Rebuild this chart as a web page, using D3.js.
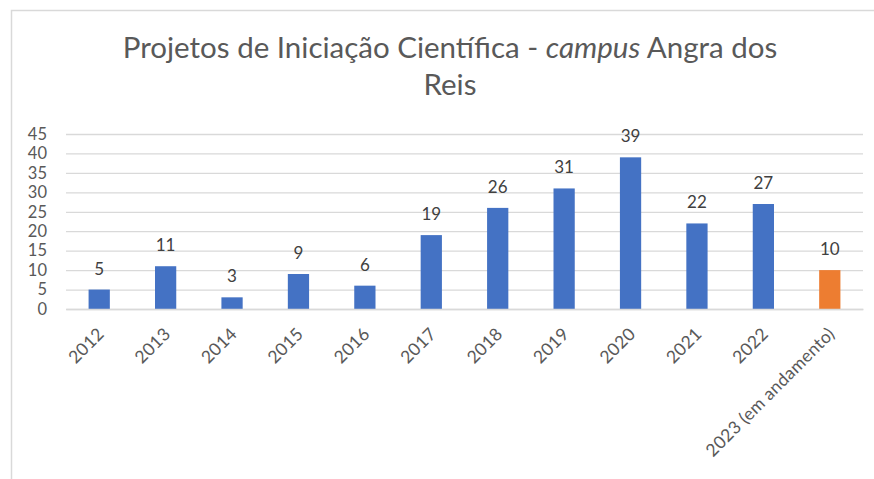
<!DOCTYPE html>
<html><head><meta charset="utf-8">
<script src="https://cdn.jsdelivr.net/npm/d3@7"></script>
<style>body{margin:0;background:#fff}svg{display:block}</style>
</head><body>
<script>
const categories = ["2012","2013","2014","2015","2016","2017","2018","2019","2020","2021","2022","2023 (em andamento)"];
const values = [5,11,3,9,6,19,26,31,39,22,27,10];
const highlighted = ["2023 (em andamento)"];
const yTicks = [0,5,10,15,20,25,30,35,40,45];
const titleLine1 = ["Projetos de Iniciação Científica - ", "campus", " Angra dos"];
const titleLine2 = "Reis";

const W = 874, H = 479;
const svg = d3.select("body").append("svg").attr("width", W).attr("height", H);
svg.append("rect").attr("width", W).attr("height", H).attr("fill", "#fff");
// chart border (extends beyond viewport)
svg.append("rect").attr("x", 11.5).attr("y", 10.5).attr("width", W + 20).attr("height", H + 20)
  .attr("fill", "none").attr("stroke", "#d9d9d9").attr("stroke-width", 1.5);

const font = "Lato, 'Open Sans', sans-serif";
const t1 = svg.append("text").attr("x", 450).attr("y", 58).attr("text-anchor", "middle")
  .attr("font-family", font).attr("font-weight", 400).attr("font-size", 29.5).attr("fill", "#595959");
titleLine1.forEach((s, i) => t1.append("tspan").attr("font-style", i === 1 ? "italic" : "normal").text(s));
svg.append("text").attr("x", 450).attr("y", 95).attr("text-anchor", "middle")
  .attr("font-family", font).attr("font-weight", 400).attr("font-size", 29.5).attr("fill", "#595959").text(titleLine2);

const x = d3.scaleBand().domain(categories).range([66, 863]).paddingInner(0.68).paddingOuter(0.34);
const y = d3.scaleLinear().domain([0, 45]).range([309, 134]);

// gridlines
const yAxis = d3.axisLeft(y).tickValues(yTicks).tickSize(-(863 - 66)).tickPadding(19);
const gy = svg.append("g").attr("transform", "translate(66,0)").call(yAxis);
gy.select(".domain").remove();
gy.selectAll(".tick line").attr("stroke", "#d9d9d9").attr("stroke-width", 1.3);
gy.selectAll(".tick text").attr("font-family", font).attr("font-size", 16.5).attr("fill", "#595959");

// bars
svg.append("g").selectAll("rect").data(categories).join("rect")
  .attr("x", d => x(d)).attr("width", x.bandwidth())
  .attr("y", (d, i) => y(values[i])).attr("height", (d, i) => y(0) - y(values[i]))
  .attr("fill", d => highlighted.includes(d) ? "#ED7D31" : "#4472C4");

// x axis
const xAxis = d3.axisBottom(x).tickSize(0).tickPadding(0);
const gx = svg.append("g").attr("transform", "translate(0,309)").call(xAxis);
gx.select(".domain").attr("stroke", "#d9d9d9").attr("stroke-width", 1.5);
gx.selectAll(".tick text").attr("font-family", font).attr("font-size", 17.5).attr("fill", "#595959")
  .attr("text-anchor", "end").attr("dy", null).attr("letter-spacing", 0.3)
  .attr("transform", "translate(6,26) rotate(-45)");

// data labels
svg.append("g").selectAll("text").data(categories).join("text")
  .attr("x", d => x(d) + x.bandwidth() / 2)
  .attr("y", (d, i) => y(values[i]) - 15)
  .attr("text-anchor", "middle").attr("font-family", font).attr("font-size", 17).attr("fill", "#404040")
  .text((d, i) => values[i]);
</script>
</body></html>
